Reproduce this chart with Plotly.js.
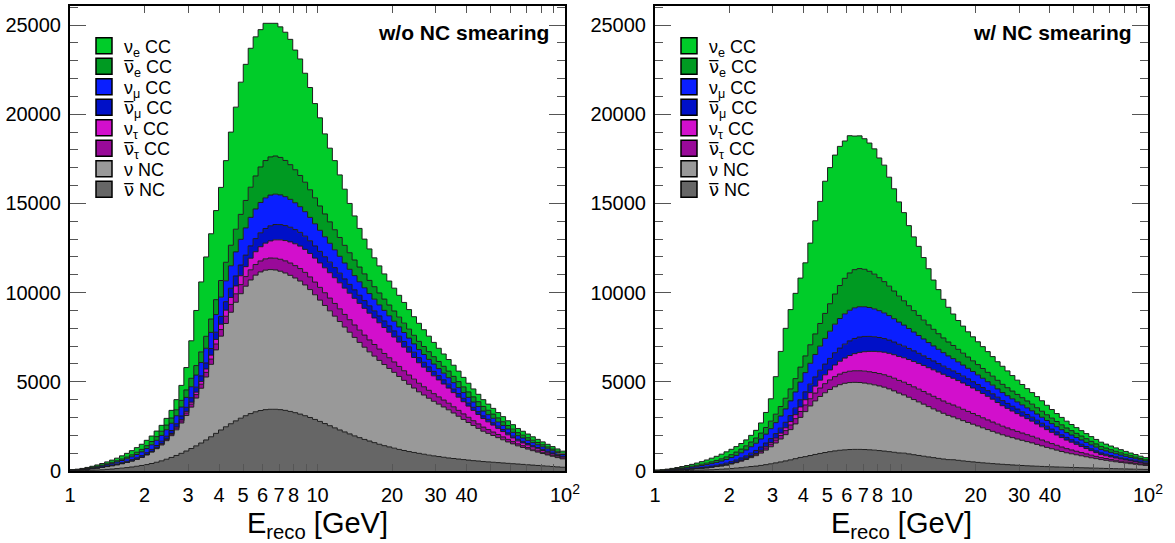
<!DOCTYPE html>
<html><head><meta charset="utf-8">
<script src="https://cdn.plot.ly/plotly-3.0.1.min.js"></script>
<style>html,body{margin:0;padding:0;background:#fff}#plot{width:1175px;height:543px}</style>
</head><body><div id="plot"></div>
<script>
// Binning: 100 log-spaced bins from 1 to 100 GeV (50 per decade)
const nBins = 100;
const binsPerDecade = 50;

// Series labels (legend order, top to bottom)
const NUBAR = '<span style="font-family:DejaVu Sans">\u03BD\u0305</span>';
const seriesNames = ['\u03BD<sub>e</sub> CC', NUBAR + '<sub>e</sub> CC', '\u03BD<sub>\u03BC</sub> CC', NUBAR + '<sub>\u03BC</sub> CC',
  '\u03BD<sub>\u03C4</sub> CC', NUBAR + '<sub>\u03C4</sub> CC', '\u03BD NC', NUBAR + ' NC'];
const panelLabels = ['w/o NC smearing', 'w/ NC smearing'];

// Events per bin
const nueCC = [10,12,23,37,52,71,86,103,122,144,
178,209,232,259,286,300,307,313,332,376,
430,568,841,1255,2103,3090,3921,4449,4780,4992,
5220,5699,6344,6845,7412,7632,7790,7800,7700,7695,
7490,7440,7320,7190,7025,6710,6532,6110,5732,5283,
4941,4489,4133,3874,3508,3149,2762,2471,2166,1946,
1764,1617,1519,1412,1345,1279,1224,1161,1098,1042,
1012,941,870,800,740,691,650,624,588,532,
486,445,413,380,345,320,300,285,265,250,
235,220,205,190,175,160,150,140,128,118];
const nuebarCC = [8,11,15,20,26,33,41,50,60,71,
83,96,110,126,143,162,183,206,232,261,
294,331,373,420,473,532,598,670,750,838,
934,1038,1150,1270,1400,1540,1690,1850,1990,2090,
2140,2140,2100,2030,1945,1850,1750,1650,1550,1455,
1365,1280,1200,1125,1055,990,930,875,825,780,
738,700,665,632,602,574,548,524,502,481,
462,447,432,416,401,385,370,354,338,322,
306,290,275,260,247,234,221,208,195,182,
170,159,148,137,126,115,104,93,82,70];
const numuCC = [10,15,22,30,40,50,62,75,90,105,
122,140,160,182,206,232,260,292,326,364,
405,450,500,555,615,680,750,825,905,990,
1080,1170,1260,1350,1440,1525,1600,1660,1700,1720,
1720,1700,1665,1620,1565,1505,1440,1375,1310,1245,
1180,1118,1058,1000,945,893,845,800,758,720,
685,652,622,594,568,544,522,502,484,467,
451,436,421,406,391,376,360,347,334,321,
308,295,282,270,260,250,240,230,220,210,
200,189,178,167,156,145,134,123,112,100];
const numubarCC = [5,7,10,13,17,21,26,32,38,45,
52,60,68,77,87,98,110,123,137,152,
168,186,206,228,252,278,306,336,368,402,
438,476,516,558,600,645,690,735,780,820,
850,860,855,840,820,795,768,740,710,680,
650,620,592,565,540,516,494,473,453,434,
416,399,383,368,354,341,329,317,306,295,
285,274,263,252,241,230,220,210,200,190,
180,170,160,150,141,132,123,114,106,98,
90,85,80,75,70,65,60,55,50,45];
const nutauCC = [0,0,0,0,0,0,0,0,0,0,
0,0,0,3,6,10,15,21,28,37,
48,60,75,92,112,135,160,190,222,258,
298,342,390,442,498,558,650,720,800,880,
960,1030,1090,1140,1185,1225,1260,1290,1318,1345,
1370,1398,1422,1442,1460,1474,1486,1495,1500,1502,
1500,1490,1475,1455,1430,1400,1365,1325,1280,1215,
1150,1100,1050,1000,950,900,850,795,740,685,
630,580,530,480,435,390,345,300,255,210,
170,155,140,125,112,100,89,79,69,60];
const nutaubarCC = [0,0,0,0,0,0,0,0,0,0,
0,0,5,8,12,18,25,35,45,60,
75,95,115,140,165,195,225,260,295,330,
370,405,440,475,510,540,570,595,615,635,
650,660,670,680,690,695,700,705,710,712,
714,715,715,714,712,708,703,696,688,678,
667,652,636,619,601,582,562,541,520,500,
480,462,444,426,407,388,370,350,330,310,
290,270,250,230,212,194,177,160,144,127,
110,100,91,83,75,67,60,53,46,40];
// NC without smearing
const nuNC_noSmear = [30,40,55,70,90,110,135,160,190,220,
255,295,340,390,450,540,640,760,890,1040,
1220,1440,1700,1990,2320,2680,3070,3530,4060,4680,
5260,5790,6250,6650,6980,7260,7490,7660,7770,7820,
7830,7810,7760,7700,7630,7550,7460,7330,7170,6990,
6800,6620,6440,6260,6080,5880,5700,5520,5340,5170,
5000,4850,4700,4550,4400,4250,4090,3930,3770,3610,
3450,3320,3190,3060,2940,2820,2700,2550,2400,2250,
2110,1970,1830,1700,1600,1500,1400,1300,1200,1110,
1020,950,880,810,750,690,630,575,520,470];
const nubarNC_noSmear = [10,15,20,30,40,55,70,90,110,135,
160,190,225,265,310,360,420,490,570,660,
760,870,990,1120,1260,1410,1570,1740,1920,2110,
2300,2480,2650,2810,2960,3100,3220,3320,3390,3440,
3460,3460,3440,3400,3340,3270,3190,3100,3000,2890,
2780,2660,2540,2420,2300,2190,2080,1970,1870,1770,
1680,1590,1500,1420,1350,1280,1210,1150,1090,1040,
990,940,890,850,810,770,730,700,670,640,
610,580,560,530,510,490,470,450,430,410,
390,370,350,330,310,290,270,250,230,210];
// NC with smearing
const nuNC_smear = [14,19,26,34,43,53,65,77,91,106,
122,142,163,187,216,259,307,365,427,499,
586,691,816,955,1114,1286,1474,1694,1949,2246,
2525,2779,3000,3192,3350,3485,3595,3677,3730,3754,
3758,3749,3725,3696,3662,3624,3581,3518,3442,3355,
3264,3178,3091,3005,2918,2822,2736,2650,2563,2482,
2400,2328,2256,2184,2112,2040,1963,1886,1810,1733,
1656,1594,1531,1469,1411,1354,1296,1224,1152,1080,
1013,946,878,816,768,720,672,624,576,533,
490,456,422,389,360,331,302,276,250,226];
const nubarNC_smear = [4,6,8,12,16,22,28,36,44,54,
61,72,86,101,118,137,160,186,217,251,
274,313,356,403,454,508,565,626,691,760,
805,868,928,984,1036,1085,1127,1162,1187,1204,
1211,1211,1204,1190,1169,1145,1117,1085,1050,1012,
1001,958,914,871,828,788,749,709,673,637,
632,600,568,538,511,484,459,436,414,394,
375,357,339,324,309,294,280,268,256,245,
235,225,216,207,199,191,183,175,167,159,
151,143,136,129,122,115,108,101,95,89];

// x tick labels
const xTickVals = [1,2,3,4,5,6,7,8,10,20,30,40,100];
const xTickText = ['1','2','3','4','5','6','7','8','10','20','30','40','10<sup>2</sup>'];
const xMinorVals = [9,50,60,70,80,90];

// Styles
const FONT = 'Liberation Sans, Arial, Helvetica, sans-serif';
const fillColors = ['#00cc29', '#009a22', '#0a1fff', '#0010c8', '#d20fcc', '#990a99', '#999999', '#666666'];

const binEdges = [];
for (let k = 0; k <= nBins; k++) binEdges.push(Math.pow(10, k / binsPerDecade));

function stepY(arr) { return arr.concat([arr[arr.length - 1]]); }

// stacking order bottom -> top
const panels = [
  {stack: [nubarNC_noSmear, nuNC_noSmear, nutaubarCC, nutauCC, numubarCC, numuCC, nuebarCC, nueCC], xa: 'x', ya: 'y', legX: 84},
  {stack: [nubarNC_smear, nuNC_smear, nutaubarCC, nutauCC, numubarCC, numuCC, nuebarCC, nueCC], xa: 'x2', ya: 'y2', legX: 669}
];
const stackIdx = [7, 6, 5, 4, 3, 2, 1, 0]; // map stack layer to series index
const legendRowY = [46, 66.5, 87, 107.5, 128, 148.5, 169, 189.5];

const W = 1175, PLOT_TOP = 6, PLOT_BOT = 471;
const FONTSPEC = {size: 18, family: FONT, color: '#000'};

const traces = [];
const legends = {};
let legCount = 0;
panels.forEach((p, pi) => {
  p.stack.forEach((arr, li) => {
    const si = stackIdx[li];
    traces.push({
      type: 'scatter', mode: 'lines', x: binEdges, y: stepY(arr),
      xaxis: p.xa, yaxis: p.ya, stackgroup: 'g' + pi,
      line: {shape: 'hv', color: '#1e1e1e', width: 1},
      fillcolor: fillColors[si], showlegend: false, hoverinfo: 'skip', name: seriesNames[si]
    });
  });
  seriesNames.forEach((nm, si) => {
    legCount += 1;
    const lid = legCount === 1 ? 'legend' : 'legend' + legCount;
    legends[lid] = {
      x: p.legX / W, xanchor: 'left',
      y: (PLOT_BOT - legendRowY[si]) / (PLOT_BOT - PLOT_TOP), yanchor: 'middle',
      bgcolor: 'rgba(0,0,0,0)', borderwidth: 0, font: FONTSPEC, itemwidth: 30
    };
    traces.push({
      type: 'scatter', mode: 'markers', x: [null], y: [null], xaxis: p.xa, yaxis: p.ya,
      name: nm, legend: lid, showlegend: true,
      marker: {symbol: 'square', size: 16, color: fillColors[si], line: {color: '#000', width: 1.5}}
    });
  });
});

function xAxis(domain, anchor) {
  return {
    type: 'log', range: [0, 2], domain: domain, anchor: anchor,
    tickmode: 'array', tickvals: xTickVals, ticktext: xTickText,
    minor: {tickmode: 'array', tickvals: xMinorVals, ticks: 'inside', ticklen: 7, tickcolor: '#555', tickwidth: 1},
    ticks: 'inside', ticklen: 7, tickwidth: 1, tickcolor: '#555',
    mirror: 'allticks', showline: true, linecolor: '#000', linewidth: 2,
    showgrid: false, zeroline: false, automargin: false, ticklabelstandoff: 5,
    tickfont: {size: 20, color: '#000', family: FONT},
    title: {text: 'E<sub>reco</sub> [GeV]', font: {size: 29, color: '#000', family: FONT}, standoff: 12}
  };
}
function yAxis(anchor) {
  return {
    range: [0, 26070], domain: [0, 1], anchor: anchor,
    tickmode: 'linear', tick0: 0, dtick: 5000, tickformat: 'd',
    ticks: 'inside', ticklen: 16, tickwidth: 1, tickcolor: '#555',
    minor: {dtick: 1000, ticks: 'inside', ticklen: 8, tickcolor: '#555', tickwidth: 1},
    mirror: 'allticks', showline: true, linecolor: '#000', linewidth: 2,
    showgrid: false, zeroline: false, automargin: false, ticklabelstandoff: 3,
    tickfont: {size: 20, color: '#000', family: FONT}
  };
}

const layout = Object.assign({
  width: 1175, height: 543,
  margin: {l: 0, r: 0, t: PLOT_TOP, b: 543 - PLOT_BOT},
  paper_bgcolor: '#fff', plot_bgcolor: '#fff',
  font: {family: FONT, color: '#000'},
  showlegend: true,
  xaxis: xAxis([70 / W, 565 / W], 'y'),
  yaxis: yAxis('x'),
  xaxis2: xAxis([655 / W, 1148 / W], 'y2'),
  yaxis2: yAxis('x2'),
  annotations: [
    {text: '<b>' + panelLabels[0] + '</b>', xref: 'paper', yref: 'paper', x: 551 / W, y: 0.942,
     xanchor: 'right', yanchor: 'middle', showarrow: false, font: {size: 21, family: FONT, color: '#000'}},
    {text: '<b>' + panelLabels[1] + '</b>', xref: 'paper', yref: 'paper', x: 1134 / W, y: 0.942,
     xanchor: 'right', yanchor: 'middle', showarrow: false, font: {size: 21, family: FONT, color: '#000'}}
  ]
}, legends);

Plotly.newPlot('plot', traces, layout, {displayModeBar: false, staticPlot: true});
</script></body></html>
